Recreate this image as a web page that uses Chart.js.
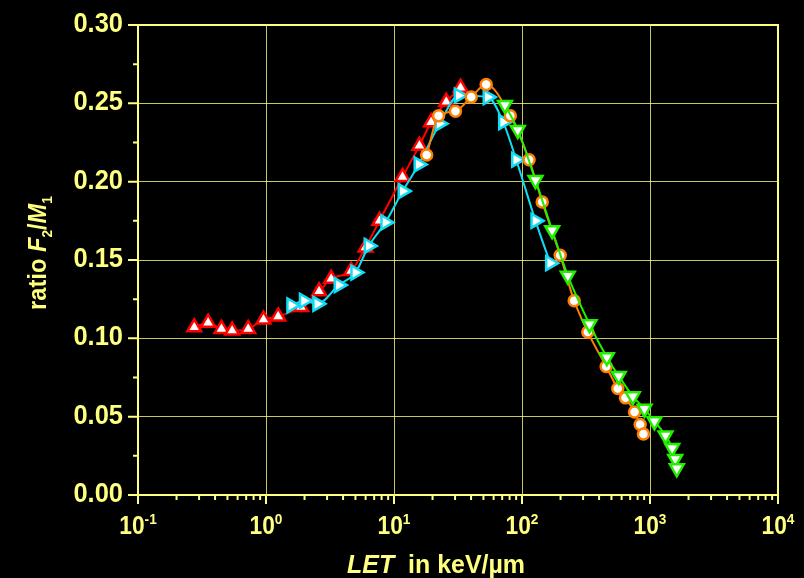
<!DOCTYPE html>
<html>
<head>
<meta charset="utf-8">
<script src="https://cdn.jsdelivr.net/npm/chart.js@4.4.1/dist/chart.umd.min.js"></script>
<style>
  html, body { margin: 0; padding: 0; background: #000; }
  #wrap { width: 804px; height: 578px; }
</style>
</head>
<body>
<div id="wrap"><canvas id="c" width="804" height="578"></canvas></div>
<script>
// LET (keV/µm) and F2/M1 ratio for each measured series
const redLET      = [0.275, 0.353, 0.449, 0.544, 0.726, 0.956, 1.245, 1.88, 2.60, 3.23, 4.63, 5.99, 7.70, 11.65, 15.8, 19.5, 25.6, 33.1];
const redRatio    = [0.107, 0.110, 0.106, 0.105, 0.106, 0.112, 0.114, 0.120, 0.130, 0.138, 0.143, 0.158, 0.175, 0.203, 0.223, 0.238, 0.251, 0.260];

const cyanLET     = [1.58, 1.98, 2.52, 3.70, 5.00, 6.35, 8.58, 11.7, 15.6, 22.7, 32.1, 54.0, 71.3, 90.1, 127.5, 166];
const cyanRatio   = [0.121, 0.124, 0.122, 0.134, 0.142, 0.159, 0.174, 0.194, 0.211, 0.237, 0.255, 0.254, 0.238, 0.214, 0.175, 0.148];

const orangeLET   = [18.0, 22.3, 30.2, 40.1, 52.5, 81.0, 113.6, 143.8, 198.8, 255.7, 326.6, 454.6, 560, 643, 757, 838, 889];
const orangeRatio = [0.217, 0.242, 0.245, 0.254, 0.262, 0.242, 0.214, 0.187, 0.153, 0.124, 0.104, 0.082, 0.068, 0.062, 0.053, 0.045, 0.039];

const greenLET    = [73.6, 92.7, 127.5, 172, 228, 337, 460, 570, 734, 906, 1084, 1322, 1490, 1574, 1620];
const greenRatio  = [0.249, 0.233, 0.201, 0.169, 0.140, 0.109, 0.088, 0.076, 0.063, 0.055, 0.047, 0.038, 0.030, 0.023, 0.017];

// axis tick labels
const xTickExponents = ['-1', '0', '1', '2', '3', '4'];
const yTickValues = [0.00, 0.05, 0.10, 0.15, 0.20, 0.25, 0.30];
const yTickLabels = ['0.00', '0.05', '0.10', '0.15', '0.20', '0.25', '0.30'];

const TEXT = '#ffff80';
const AXIS = '#ffff80';
const GRID = 'rgba(255,255,128,0.78)';
const FONT = '"Liberation Sans", Arial, sans-serif';
const SQUEEZE = 0.91;

function pairs(xs, ys) { return xs.map((x, i) => ({ x: x, y: ys[i] })); }

function series(xs, ys, color, rotation, radius) {
  return {
    data: pairs(xs, ys),
    showLine: true,
    borderColor: color,
    borderWidth: 2,
    cubicInterpolationMode: 'monotone',
    pointStyle: rotation === null ? 'circle' : 'triangle',
    rotation: rotation === null ? 0 : rotation,
    pointRadius: radius,
    pointBorderWidth: 2.5,
    pointBorderColor: color,
    pointBackgroundColor: '#ffffff'
  };
}

// text runs: pieces of [text, font, dy], squeezed horizontally
function runWidth(ctx, pieces, sq) {
  let w = 0;
  for (const p of pieces) { ctx.font = p[1]; w += ctx.measureText(p[0]).width * sq; }
  return w;
}
function drawRun(ctx, pieces, x, y, sq) {
  let cx = x;
  for (const p of pieces) {
    ctx.font = p[1];
    const w = ctx.measureText(p[0]).width * sq;
    ctx.save();
    ctx.translate(cx, y + (p[2] || 0));
    ctx.scale(sq, 1);
    ctx.textAlign = 'left';
    ctx.textBaseline = 'alphabetic';
    ctx.fillText(p[0], 0, 0);
    ctx.restore();
    cx += w;
  }
}

const decorations = {
  id: 'decorations',
  beforeDraw(chart) {
    const ctx = chart.ctx;
    ctx.save();
    ctx.fillStyle = '#000';
    ctx.fillRect(0, 0, chart.width, chart.height);
    ctx.restore();
  },
  afterDraw(chart) {
    const ctx = chart.ctx;
    const a = chart.chartArea;
    const xs = chart.scales.x, ys = chart.scales.y;
    ctx.save();
    ctx.strokeStyle = AXIS;
    ctx.fillStyle = TEXT;
    ctx.lineWidth = 2;
    ctx.strokeRect(a.left, a.top, a.right - a.left, a.bottom - a.top);

    // x tick marks: decades and 2..9 minors
    ctx.beginPath();
    for (let e = -1; e <= 4; e++) {
      const px = xs.getPixelForValue(Math.pow(10, e));
      ctx.moveTo(px, a.bottom); ctx.lineTo(px, a.bottom + 9);
      if (e < 4) {
        for (let m = 2; m <= 9; m++) {
          const mx = xs.getPixelForValue(m * Math.pow(10, e));
          ctx.moveTo(mx, a.bottom); ctx.lineTo(mx, a.bottom + 5);
        }
      }
    }
    // y tick marks every 0.025
    for (let k = 0; k <= 12; k++) {
      const py = ys.getPixelForValue(k * 0.025);
      const len = k % 2 === 0 ? 10 : 5;
      ctx.moveTo(a.left, py); ctx.lineTo(a.left - len, py);
    }
    ctx.stroke();

    // y tick labels
    const yFont = 'bold 28px ' + FONT;
    yTickValues.forEach((v, i) => {
      const py = ys.getPixelForValue(v);
      const pieces = [[yTickLabels[i], yFont, 0]];
      const w = runWidth(ctx, pieces, SQUEEZE);
      drawRun(ctx, pieces, a.left - 15 - w, py + 7, SQUEEZE);
    });

    // x tick labels: 10 with superscript exponent
    const baseFont = 'bold 25px ' + FONT;
    const supFont = 'bold 15px ' + FONT;
    xTickExponents.forEach((ex) => {
      const px = xs.getPixelForValue(Math.pow(10, Number(ex)));
      const pieces = [['10', baseFont, 0], [ex, supFont, -10]];
      const w = runWidth(ctx, pieces, SQUEEZE);
      drawRun(ctx, pieces, px - w / 2, a.bottom + 38.5, SQUEEZE);
    });

    // x axis title
    drawRun(ctx, [
      ['LET', 'italic bold 26px ' + FONT, 0],
      ['  in keV/\u00b5m', 'bold 26px ' + FONT, 0]
    ], 347, 573, 0.96);

    // y axis title, rotated
    const titlePieces = [
      ['ratio ', 'bold 26px ' + FONT, 0],
      ['F', 'italic bold 26px ' + FONT, 0],
      ['2', 'bold 15px ' + FONT, 6],
      ['/', 'bold 26px ' + FONT, 0],
      ['M', 'italic bold 26px ' + FONT, 0],
      ['1', 'bold 15px ' + FONT, 6]
    ];
    const tw = runWidth(ctx, titlePieces, SQUEEZE);
    ctx.save();
    ctx.translate(46, 253);
    ctx.rotate(-Math.PI / 2);
    drawRun(ctx, titlePieces, -tw / 2, 0, SQUEEZE);
    ctx.restore();

    ctx.restore();
  }
};

new Chart(document.getElementById('c'), {
  type: 'scatter',
  data: {
    datasets: [
      series(greenLET, greenRatio, '#22ee00', 180, 8),
      series(orangeLET, orangeRatio, '#ff7f00', null, 5.5),
      series(cyanLET, cyanRatio, '#10dcf4', 90, 8),
      series(redLET, redRatio, '#ff0000', 0, 8)
    ]
  },
  options: {
    responsive: false,
    animation: false,
    devicePixelRatio: 1,
    layout: { padding: { left: 138, top: 25, right: 26, bottom: 83 } },
    plugins: { legend: { display: false }, tooltip: { enabled: false } },
    scales: {
      x: {
        type: 'logarithmic',
        min: 0.1,
        max: 10000,
        afterFit(scale) { scale.height = 0; },
        border: { display: false },
        ticks: { display: false },
        grid: {
          drawTicks: false,
          lineWidth: 1,
          color(c) {
            const v = c.tick && c.tick.value;
            if (!v) return 'transparent';
            const l = Math.log10(v);
            return Math.abs(l - Math.round(l)) < 1e-6 ? GRID : 'transparent';
          }
        }
      },
      y: {
        type: 'linear',
        min: 0,
        max: 0.3,
        afterFit(scale) { scale.width = 0; },
        border: { display: false },
        ticks: { display: false, stepSize: 0.05 },
        grid: { drawTicks: false, lineWidth: 1, color: GRID }
      }
    }
  },
  plugins: [decorations]
});
</script>
</body>
</html>
